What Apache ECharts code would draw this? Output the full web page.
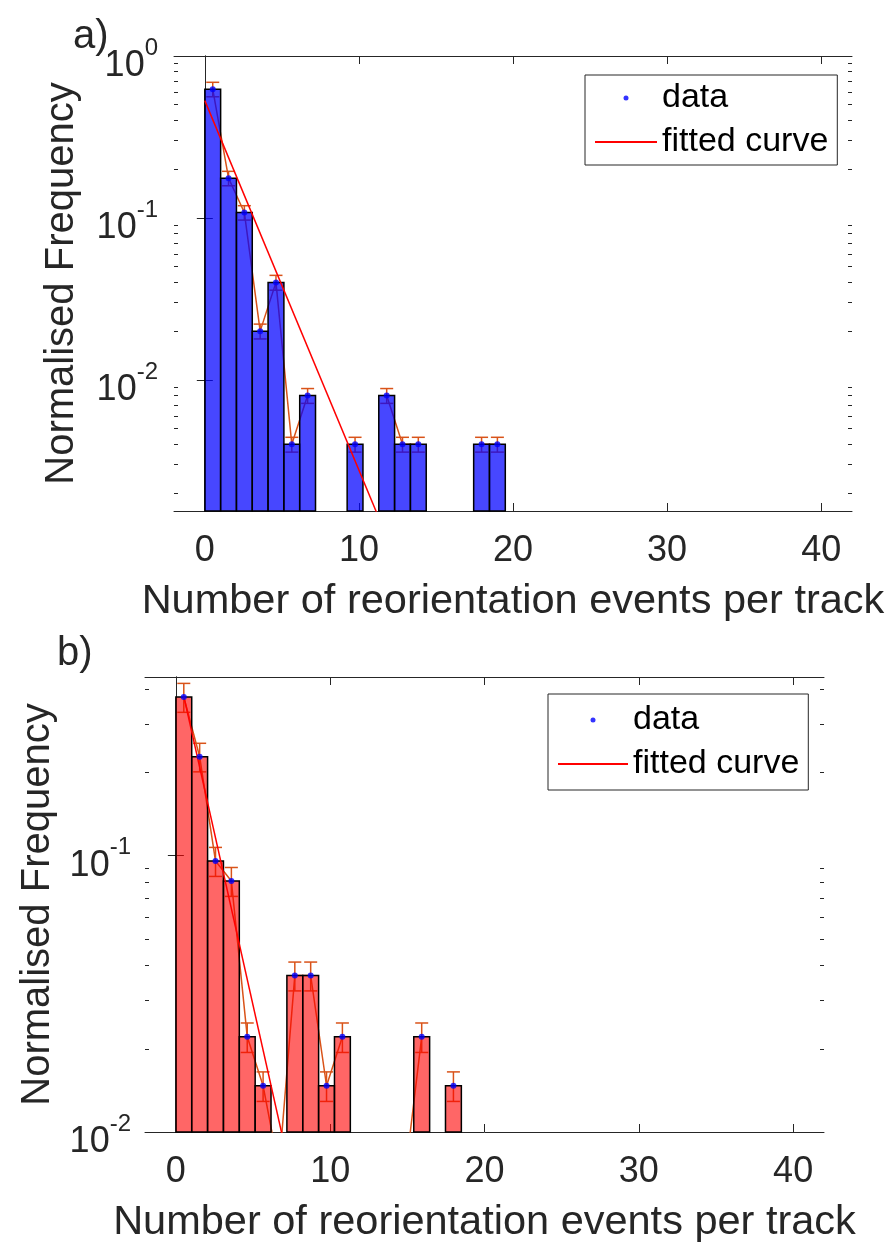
<!DOCTYPE html>
<html>
<head>
<meta charset="utf-8">
<script src="https://cdn.jsdelivr.net/npm/echarts@6/dist/echarts.min.js"></script>
<style>
  html, body { margin: 0; padding: 0; background: #ffffff; }
  #chart { width: 896px; height: 1246px; }
</style>
</head>
<body>
<div id="chart"></div>
<script>
// ---- Panel a) : normalised histogram, 19 bins spanning 0..19.5 ----
const histMaxA = 19.5;
const freqA = [0.624, 0.176, 0.108, 0.020, 0.040, 0.004, 0.008, 0, 0, 0.004,
               0, 0.008, 0.004, 0.004, 0, 0, 0, 0.004, 0.004];
const errA  = [0.064, 0.018, 0.011, 0.0021, 0.0042, 0.00042, 0.00084, 0, 0, 0.00042,
               0, 0.00084, 0.00042, 0.00042, 0, 0, 0, 0.00042, 0.00042];
const fitXA = [0, 12];
const fitYA = [0.530, 0.00097];

// ---- Panel b) : normalised histogram, 18 bins spanning 0..18.5 ----
const histMaxB = 18.5;
const freqB = [0.375, 0.228, 0.0956, 0.0809, 0.0221, 0.0147, 0.00735, 0.0368, 0.0368,
               0.0147, 0.0221, 0, 0, 0, 0.00735, 0.0221, 0, 0.0147];
const errB  = [0.045, 0.027, 0.0115, 0.0097, 0.0027, 0.0018, 0.0009, 0.0044, 0.0044,
               0.0018, 0.0027, 0, 0, 0, 0.0009, 0.0027, 0, 0.0018];
const fitXB = [0.514, 8];
const fitYB = [0.377, 0.00515];

// ---- Axes ----
const xRange = [-2, 42];
const xTicks = [0, 10, 20, 30, 40];
const yRangeA = [0.00155, 1];
const yRangeB = [0.01, 0.443];
const yMajor = [0.01, 0.1, 1];
const yMinor = [0.002, 0.003, 0.004, 0.005, 0.006, 0.007, 0.008, 0.009,
                0.02, 0.03, 0.04, 0.05, 0.06, 0.07, 0.08, 0.09,
                0.2, 0.3, 0.4, 0.5, 0.6, 0.7, 0.8, 0.9];

const xTitle = 'Number of reorientation events per track';
const yTitle = 'Normalised Frequency';
const legendNames = ['data', 'fitted curve'];

const FONT = "'Liberation Sans', Arial, Helvetica, sans-serif";
const INK = '#262626';
const ORANGE = '#D95319';

function inRange(vals, r) { return vals.filter(v => v >= r[0] - 1e-12 && v <= r[1] + 1e-12); }

function buildPanel(p, cfg) {
  const xi = p * 2, yi = p * 4;
  const nBins = cfg.freq.length;
  const w = cfg.histMax / nBins;

  const barData = [], errData = [], lineData = [], dotData = [];
  cfg.freq.forEach((v, i) => {
    const c = (i + 0.5) * w;
    if (v > 0) {
      barData.push([i * w, (i + 1) * w, v]);
      errData.push([c, v, cfg.err[i]]);
      dotData.push([c, v]);
      lineData.push([c, v]);
    } else {
      lineData.push([c, '-']);
    }
  });

  const axisLineStyle = { show: true, lineStyle: { color: INK, width: 1 } };
  const xAxes = [
    { gridIndex: p, type: 'value', position: 'bottom', min: xRange[0], max: xRange[1],
      axisLine: axisLineStyle,
      axisTick: { show: true, inside: true, length: 8, customValues: xTicks, lineStyle: { color: INK } },
      axisLabel: { show: true, customValues: xTicks, margin: cfg.xLabelMargin, fontSize: 36,
                   fontFamily: FONT, color: INK },
      splitLine: { show: false },
      name: xTitle, nameLocation: 'middle', nameGap: cfg.xNameGap,
      nameTextStyle: { fontSize: 41.5, fontFamily: FONT, color: INK } },
    { gridIndex: p, type: 'value', position: 'top', min: xRange[0], max: xRange[1],
      axisLine: axisLineStyle,
      axisTick: { show: true, inside: true, length: 8, customValues: xTicks, lineStyle: { color: INK } },
      axisLabel: { show: false }, splitLine: { show: false } }
  ];

  const yr = cfg.yRange;
  const yAxes = [
    { gridIndex: p, type: 'log', logBase: 10, position: 'left', min: yr[0], max: yr[1],
      axisLine: axisLineStyle,
      axisTick: { show: true, inside: true, length: 8, customValues: inRange(yMajor, yr), lineStyle: { color: INK } },
      axisLabel: { show: true, customValues: inRange(yMajor, yr), margin: cfg.yLabelMargin,
                   padding: [20, 0, 0, 0],
                   formatter: v => '{b|10}{s|' + Math.round(Math.log10(v)) + '}',
                   rich: {
                     b: { fontSize: 36, fontFamily: FONT, color: INK, lineHeight: 60 },
                     s: { fontSize: 24, fontFamily: FONT, color: INK, lineHeight: 24, verticalAlign: 'top' }
                   } },
      splitLine: { show: false },
      name: yTitle, nameLocation: 'middle', nameGap: cfg.yNameGap, nameRotate: 90,
      nameTextStyle: { fontSize: 40, fontFamily: FONT, color: INK } },
    { gridIndex: p, type: 'log', logBase: 10, position: 'right', min: yr[0], max: yr[1],
      axisLine: axisLineStyle,
      axisTick: { show: true, inside: true, length: 8, customValues: inRange(yMajor, yr), lineStyle: { color: INK } },
      axisLabel: { show: false }, splitLine: { show: false } },
    { gridIndex: p, type: 'log', logBase: 10, position: 'left', min: yr[0], max: yr[1],
      axisLine: { show: false },
      axisTick: { show: true, inside: true, length: 4, customValues: inRange(yMinor, yr), lineStyle: { color: INK } },
      axisLabel: { show: false }, splitLine: { show: false } },
    { gridIndex: p, type: 'log', logBase: 10, position: 'right', min: yr[0], max: yr[1],
      axisLine: { show: false },
      axisTick: { show: true, inside: true, length: 4, customValues: inRange(yMinor, yr), lineStyle: { color: INK } },
      axisLabel: { show: false }, splitLine: { show: false } }
  ];

  const series = [
    { // error bars with caps
      type: 'custom', xAxisIndex: xi, yAxisIndex: yi, z: 1, clip: true, silent: true,
      data: errData, encode: { x: 0, y: 1 },
      renderItem: (params, api) => {
        const x = api.value(0), v = api.value(1), e = api.value(2);
        if (v + e < yr[0]) return null;
        const t = api.coord([x, v + e]);
        const b = api.coord([x, Math.max(v - e, yr[0] * 0.5)]);
        const cap = 6.5;
        const st = { stroke: ORANGE, lineWidth: 1.5 };
        return { type: 'group', children: [
          { type: 'line', shape: { x1: t[0], y1: t[1], x2: b[0], y2: b[1] }, style: st },
          { type: 'line', shape: { x1: t[0] - cap, y1: t[1], x2: t[0] + cap, y2: t[1] }, style: st },
          { type: 'line', shape: { x1: b[0] - cap, y1: b[1], x2: b[0] + cap, y2: b[1] }, style: st }
        ] };
      }
    },
    { // errorbar connecting line
      type: 'line', xAxisIndex: xi, yAxisIndex: yi, z: 1, clip: true, silent: true,
      data: lineData, symbol: 'none', connectNulls: false,
      lineStyle: { color: ORANGE, width: 1.5 }, itemStyle: { color: ORANGE }
    },
    { // histogram bars
      type: 'custom', xAxisIndex: xi, yAxisIndex: yi, z: 2, silent: true,
      data: barData, encode: { x: [0, 1], y: 2 },
      renderItem: (params, api) => {
        const x0 = api.value(0), x1 = api.value(1), v = api.value(2);
        const cs = params.coordSys;
        const bottom = cs.y + cs.height;
        const p0 = api.coord([x0, v]), p1 = api.coord([x1, v]);
        const top = Math.max(p0[1], cs.y);
        if (!(top < bottom - 0.5)) return null;
        return { type: 'rect',
                 shape: { x: p0[0], y: top, width: p1[0] - p0[0], height: bottom - top },
                 style: { fill: cfg.barColor, stroke: '#000000', lineWidth: 1.5 } };
      }
    },
    { // data points
      name: legendNames[0], type: 'scatter', xAxisIndex: xi, yAxisIndex: yi, z: 3,
      data: dotData, symbol: 'circle', symbolSize: 6, clip: true,
      itemStyle: { color: '#0000ff' }
    },
    { // exponential fit (straight on log axis)
      name: legendNames[1], type: 'line', xAxisIndex: xi, yAxisIndex: yi, z: 3, clip: true,
      data: cfg.fitX.map((x, i) => [x, cfg.fitY[i]]), symbol: 'none',
      lineStyle: { color: '#ff0000', width: 1.5 }, itemStyle: { color: '#ff0000' }
    }
  ];

  const lg = cfg.legend;
  const legend = {
    orient: 'vertical', left: lg.left, top: lg.top,
    data: [
      { name: legendNames[0] },
      { name: legendNames[1], itemStyle: { opacity: 0 } }
    ],
    itemWidth: lg.itemWidth, itemHeight: 5, itemGap: lg.gap,
    padding: lg.padding, borderColor: INK, borderWidth: 1, backgroundColor: '#ffffff',
    selectedMode: false,
    textStyle: { fontSize: 34, fontFamily: FONT, color: '#000000', lineHeight: lg.lineHeight }
  };

  return { xAxes, yAxes, series, legend };
}

const panelA = buildPanel(0, {
  histMax: histMaxA, freq: freqA, err: errA, fitX: fitXA, fitY: fitYA,
  yRange: yRangeA, barColor: 'rgba(0,0,255,0.72)',
  legend: { left: 585, top: 75, itemWidth: 62, gap: 4, lineHeight: 40, padding: [3, 9, 3, 9] },
  xLabelMargin: 22, xNameGap: 70, yLabelMargin: 16, yNameGap: 92
});
const panelB = buildPanel(1, {
  histMax: histMaxB, freq: freqB, err: errB, fitX: fitXB, fitY: fitYB,
  yRange: yRangeB, barColor: 'rgba(255,0,0,0.6)',
  legend: { left: 548, top: 694, itemWidth: 70, gap: 2, lineHeight: 42, padding: [5, 9, 5, 9] },
  xLabelMargin: 22, xNameGap: 70, yLabelMargin: 14, yNameGap: 87
});

const option = {
  backgroundColor: '#ffffff',
  animation: false,
  grid: [
    { left: 174, top: 56, width: 678, height: 455 },
    { left: 145, top: 677, width: 679, height: 455 }
  ],
  xAxis: panelA.xAxes.concat(panelB.xAxes),
  yAxis: panelA.yAxes.concat(panelB.yAxes),
  series: panelA.series.concat(panelB.series),
  legend: [panelA.legend, panelB.legend],
  graphic: [
    { type: 'text', left: 73, top: 17, style: { text: 'a)', fontSize: 40, fontFamily: FONT, fill: INK } },
    { type: 'text', left: 57, top: 634, style: { text: 'b)', fontSize: 40, fontFamily: FONT, fill: INK } }
  ]
};

const chart = echarts.init(document.getElementById('chart'), null, { renderer: 'canvas', width: 896, height: 1246 });
chart.setOption(option);
</script>
</body>
</html>
